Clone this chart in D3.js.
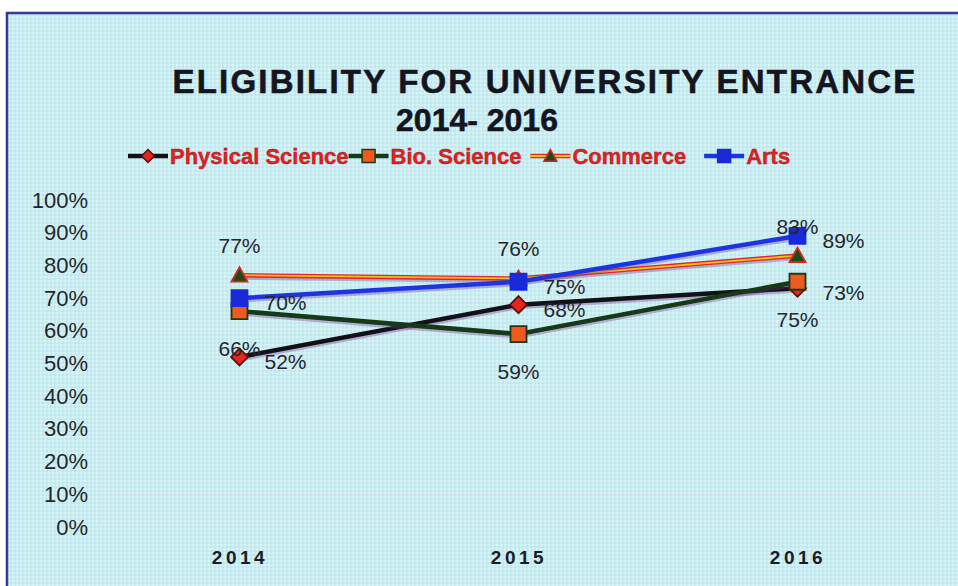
<!DOCTYPE html>
<html>
<head>
<meta charset="utf-8">
<script src="https://cdn.jsdelivr.net/npm/d3@7"></script>
<style>
  body { margin: 0; background: #fff; }
  svg { display: block; font-family: "Liberation Sans", Arial, sans-serif; }
</style>
</head>
<body>
<div id="chart"></div>
<script>
// chart data
var years = ["2014", "2015", "2016"];
var physical = [0.52, 0.68, 0.73];
var bio = [0.66, 0.59, 0.75];
var commerce = [0.77, 0.76, 0.83];
var arts = [0.70, 0.75, 0.89];
var yTicks = [0, 0.1, 0.2, 0.3, 0.4, 0.5, 0.6, 0.7, 0.8, 0.9, 1];
var seriesNames = ["Physical Science", "Bio. Science", "Commerce", "Arts"];

var W = 958, H = 586;
var margin = {top: 200, right: 21, bottom: 59, left: 100},
    width = W - margin.left - margin.right,
    height = H - margin.top - margin.bottom;

var svg = d3.select("#chart").append("svg")
    .attr("width", W)
    .attr("height", H);

// paper background with a faint weave
var defs = svg.append("defs");
var pat = defs.append("pattern")
    .attr("id", "weave")
    .attr("width", 4).attr("height", 4)
    .attr("patternUnits", "userSpaceOnUse");
pat.append("rect").attr("width", 4).attr("height", 4).attr("fill", "#c9edf1");
pat.append("rect").attr("width", 2).attr("height", 2).attr("fill", "#d6f3f5");
pat.append("rect").attr("x", 2).attr("y", 2).attr("width", 2).attr("height", 2).attr("fill", "#bfe7ed");

svg.append("rect").attr("width", W).attr("height", H).attr("fill", "#fff");
svg.append("rect")
    .attr("x", 7).attr("y", 13)
    .attr("width", W - 7).attr("height", H - 13)
    .attr("fill", "url(#weave)");
svg.append("path")
    .attr("d", "M7," + H + "V13H" + W)
    .attr("fill", "none")
    .attr("stroke", "#3b3796")
    .attr("stroke-width", 2.5);

// title
svg.append("text")
    .attr("x", 545).attr("y", 93)
    .attr("text-anchor", "middle")
    .attr("font-size", 33).attr("font-weight", "bold")
    .attr("letter-spacing", 2.2)
    .attr("fill", "#15151f")
    .attr("stroke", "#15151f").attr("stroke-width", 0.6)
    .text("ELIGIBILITY FOR UNIVERSITY ENTRANCE");
svg.append("text")
    .attr("x", 477).attr("y", 131)
    .attr("text-anchor", "middle")
    .attr("font-size", 32).attr("font-weight", "bold")
    .attr("fill", "#15151f")
    .attr("stroke", "#15151f").attr("stroke-width", 0.6)
    .text("2014- 2016");

var g = svg.append("g")
    .attr("transform", "translate(" + margin.left + "," + margin.top + ")");

var x = d3.scalePoint().domain(years).range([0, width]).padding(0.5);
var y = d3.scaleLinear().domain([0, 1]).range([height, 0]);

// gridlines
g.selectAll(".grid")
    .data(yTicks)
    .enter().append("line")
    .attr("class", "grid")
    .attr("x1", 0).attr("x2", width)
    .attr("y1", function(d) { return y(d); })
    .attr("y2", function(d) { return y(d); })
    .attr("stroke", "#e8ebe8")
    .attr("stroke-width", 1.2)
    .attr("stroke-dasharray", "2,2");
g.selectAll(".vgrid")
    .data([0, width])
    .enter().append("line")
    .attr("x1", function(d) { return d; }).attr("x2", function(d) { return d; })
    .attr("y1", 0).attr("y2", height)
    .attr("stroke", "#dadedb")
    .attr("stroke-width", 1.2)
    .attr("stroke-dasharray", "2,2");

// axes
var yAxis = g.append("g")
    .call(d3.axisLeft(y).tickValues(yTicks).tickFormat(d3.format(".0%")).tickSize(0).tickPadding(12));
yAxis.select(".domain").remove();
yAxis.selectAll("text")
    .attr("font-family", "Liberation Sans, Arial, sans-serif")
    .attr("font-size", 22).attr("fill", "#26262c");

var xAxis = g.append("g")
    .attr("transform", "translate(0," + height + ")")
    .call(d3.axisBottom(x).tickSize(0).tickPadding(24));
xAxis.select(".domain").remove();
xAxis.selectAll("text")
    .attr("font-family", "Liberation Sans, Arial, sans-serif")
    .attr("font-size", 19).attr("font-weight", "bold")
    .attr("letter-spacing", 3.5)
    .attr("fill", "#1c1c24");

// series styles
var series = [
  {name: seriesNames[0], values: physical, line: "#111118", hi: null, marker: "diamond", fill: "#e4261c", edge: "#5a1010", label: "right"},
  {name: seriesNames[1], values: bio, line: "#143a18", hi: null, marker: "square", fill: "#f05a1c", edge: "#1d3a12", label: "below"},
  {name: seriesNames[2], values: commerce, line: "#e0262a", hi: "#f2c21a", marker: "triangle", fill: "#1f4a14", edge: "#d02a20", label: "above"},
  {name: seriesNames[3], values: arts, line: "#1b36e0", hi: null, marker: "square", fill: "#1a2ad8", edge: "#1a2ad8", label: "right"}
];

function markerPath(type, size) {
  var s = size / 2;
  if (type === "diamond") return "M0," + (-s) + "L" + s + ",0L0," + s + "L" + (-s) + ",0Z";
  if (type === "triangle") return "M0," + (-s) + "L" + s + "," + (s * 0.8) + "L" + (-s) + "," + (s * 0.8) + "Z";
  return "M" + (-s) + "," + (-s) + "H" + s + "V" + s + "H" + (-s) + "Z";
}

var line = d3.line()
    .x(function(d, i) { return x(years[i]); })
    .y(function(d) { return y(d); });

series.forEach(function(s) {
  g.append("path")
      .datum(s.values)
      .attr("d", line)
      .attr("fill", "none")
      .attr("stroke", "#7a2a8a")
      .attr("stroke-opacity", 0.35)
      .attr("stroke-width", 5)
      .attr("transform", "translate(0,2)");
  g.append("path")
      .datum(s.values)
      .attr("d", line)
      .attr("fill", "none")
      .attr("stroke", s.line)
      .attr("stroke-width", 4.5);
  if (s.hi) {
    g.append("path")
        .datum(s.values)
        .attr("d", line)
        .attr("fill", "none")
        .attr("stroke", s.hi)
        .attr("stroke-width", 1.8);
  }
});
series.forEach(function(s, k) {
  g.selectAll(".m" + k)
      .data(s.values)
      .enter().append("path")
      .attr("transform", function(d, i) { return "translate(" + x(years[i]) + "," + y(d) + ")"; })
      .attr("d", markerPath(s.marker, s.marker === "diamond" ? 17 : 16))
      .attr("fill", s.fill)
      .attr("stroke", s.edge)
      .attr("stroke-width", 1.8);
});

// data labels
series.forEach(function(s) {
  g.selectAll(null)
      .data(s.values)
      .enter().append("text")
      .attr("x", function(d, i) {
        return x(years[i]) + (s.label === "right" ? 25 : 0);
      })
      .attr("y", function(d) {
        if (s.label === "above") return y(d) - 22;
        if (s.label === "below") return y(d) + 45;
        return y(d) + 12;
      })
      .attr("text-anchor", s.label === "right" ? "start" : "middle")
      .attr("font-size", 21)
      .attr("fill", "#26262c")
      .text(function(d) { return d3.format(".0%")(d); });
});

// legend
var legend = svg.append("g").attr("transform", "translate(128,156)");
var lx = 0;
var gaps = [0, 0, 9, 18];
series.forEach(function(s, i) {
  lx += gaps[i];
  var item = legend.append("g").attr("transform", "translate(" + lx + ",0)");
  item.append("line")
      .attr("x1", 0).attr("x2", 40)
      .attr("stroke", s.line).attr("stroke-width", 4.5);
  if (s.hi) {
    item.append("line")
        .attr("x1", 0).attr("x2", 40)
        .attr("stroke", s.hi).attr("stroke-width", 1.8);
  }
  item.append("path")
      .attr("transform", "translate(20,0)")
      .attr("d", markerPath(s.marker, 13))
      .attr("fill", s.fill).attr("stroke", s.edge).attr("stroke-width", 1.5);
  var t = item.append("text")
      .attr("x", 42).attr("y", 8)
      .attr("font-size", 22).attr("font-weight", "bold")
      .attr("fill", "#e4201a")
      .attr("stroke", "#9a1a30").attr("stroke-width", 0.4)
      .text(s.name);
  lx += 42 + t.node().getComputedTextLength();
});
</script>
</body>
</html>
